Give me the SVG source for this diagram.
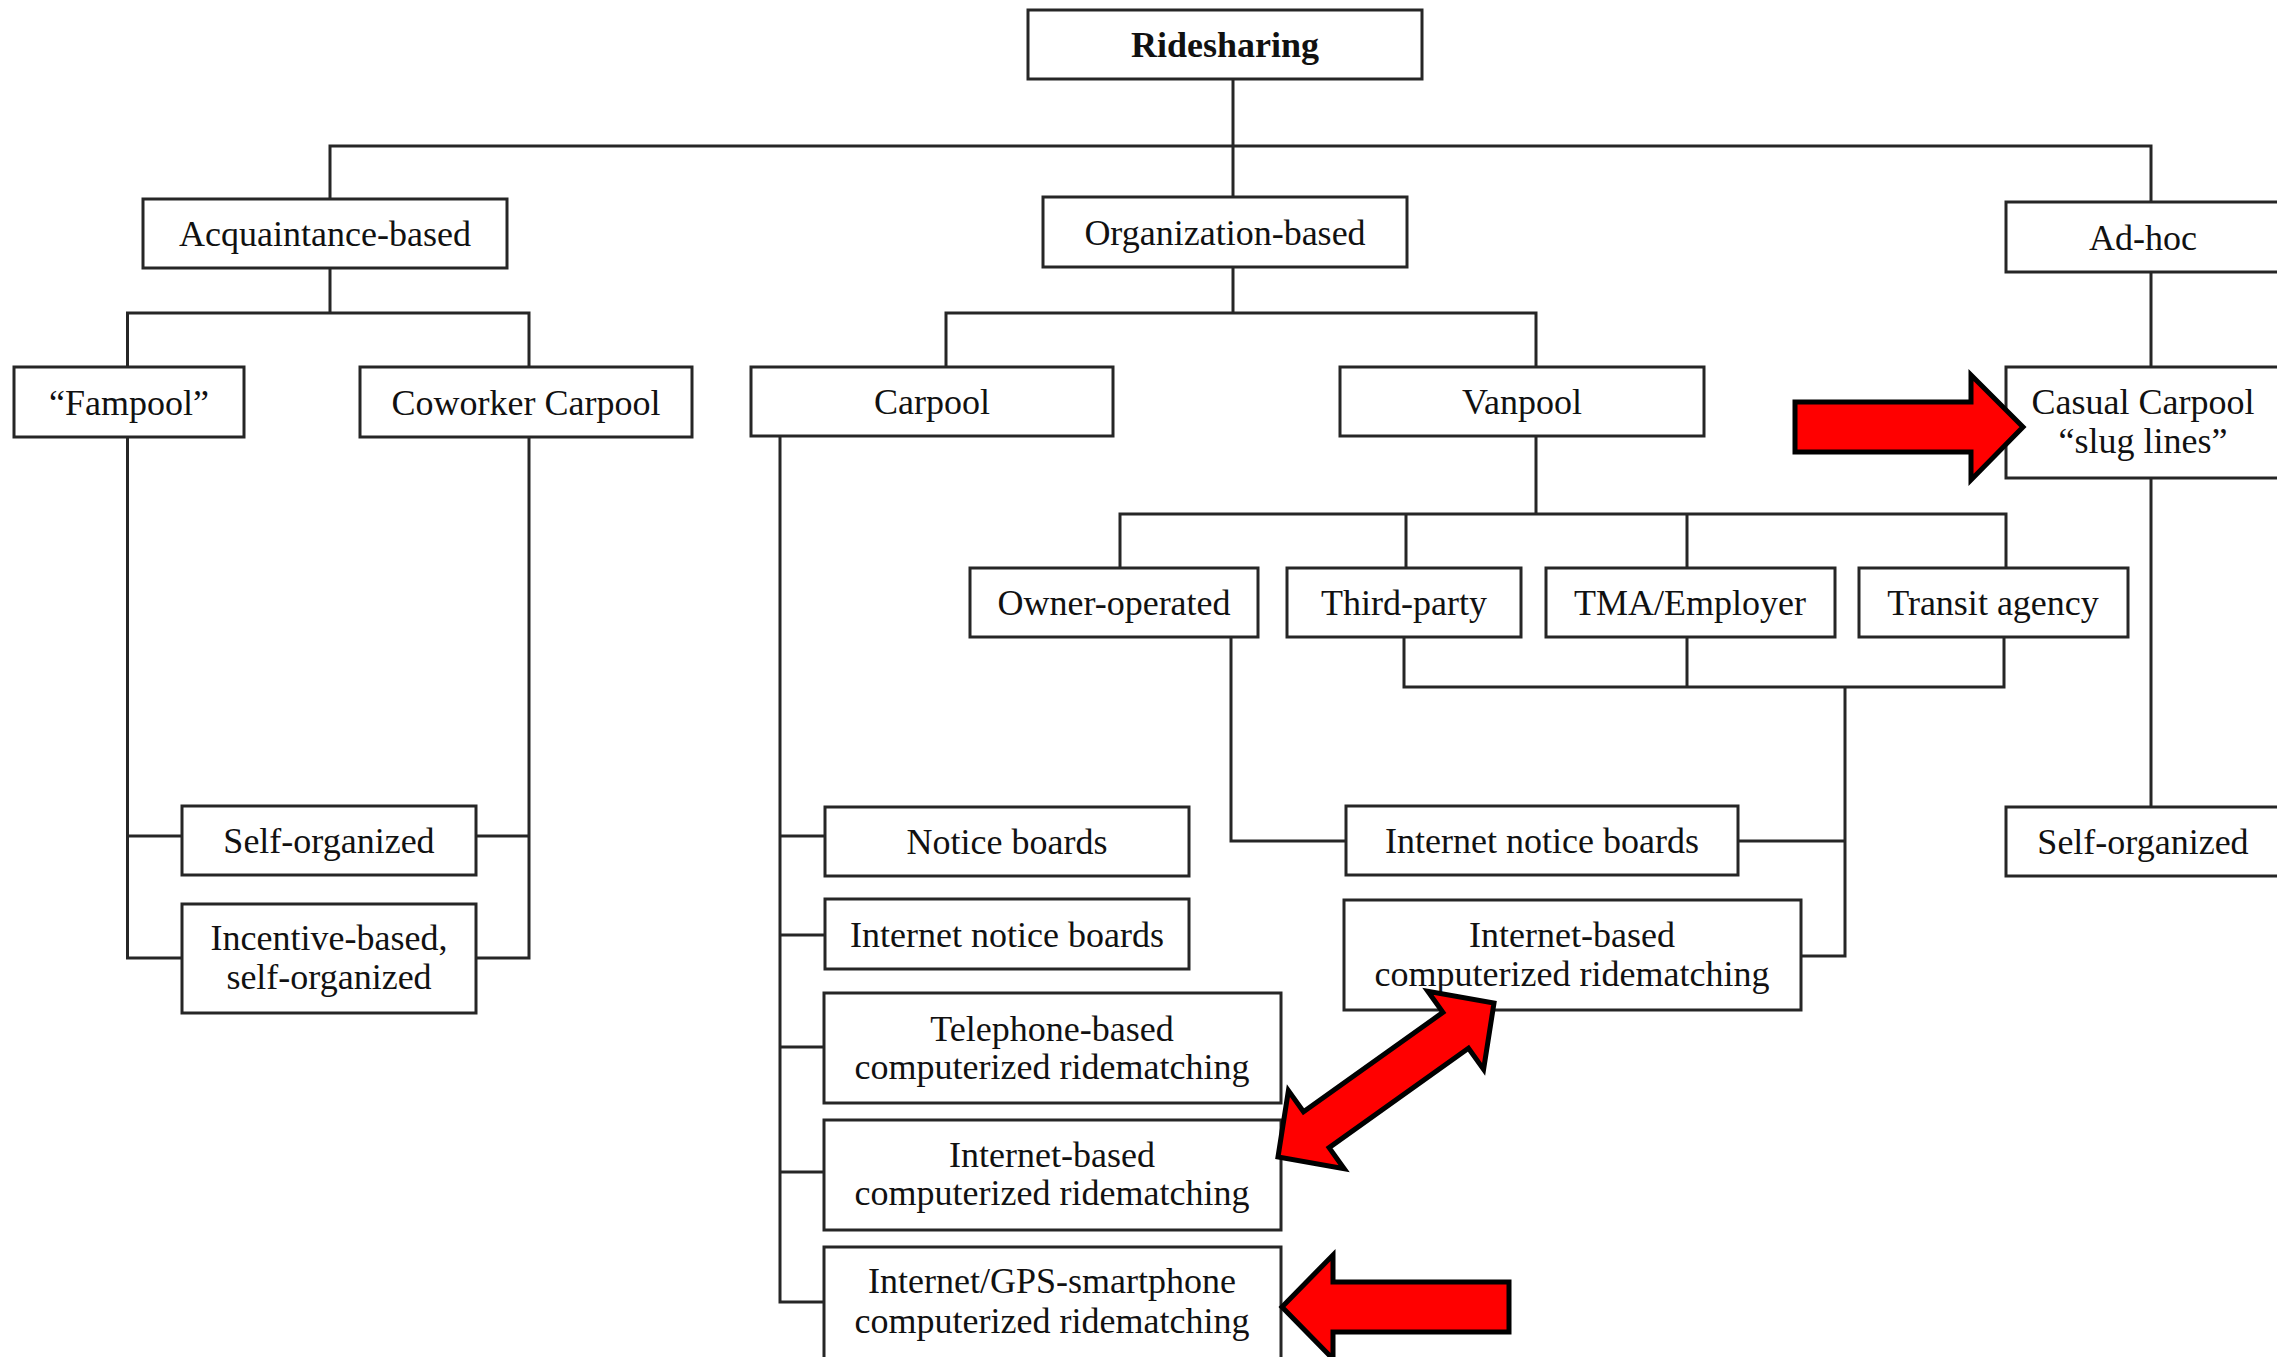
<svg xmlns="http://www.w3.org/2000/svg" width="2277" height="1357" viewBox="0 0 2277 1357">
<style>
.box{fill:#fff;stroke:#262626;stroke-width:3}
.conn{fill:none;stroke:#262626;stroke-width:3}
text{font-family:"Liberation Serif","Times New Roman",serif;font-size:36px;fill:#111;text-anchor:middle}
.bold{font-weight:bold}
.red{fill:#ff0000;stroke:#000;stroke-width:5;stroke-linejoin:miter}
</style>
<rect width="2277" height="1357" fill="#fff"/>
<g id="connectors" class="conn">
<path d="M1233,79 V197"/>
<path d="M330,199 V146 H2151 V202"/>
<path d="M330,268 V313 M127.5,367 V313 H529 V367"/>
<path d="M127.5,437 V958 H182 M127.5,836 H182"/>
<path d="M529,437 V958 H476 M529,836 H476"/>
<path d="M1233,267 V313 M946,367 V313 H1536 V367"/>
<path d="M780,436 V1302 H824 M780,836 H825 M780,935 H825 M780,1047 H824 M780,1172 H824"/>
<path d="M1536,436 V514 M1120,568 V514 H2006 V568 M1406,514 V568 M1687,514 V568"/>
<path d="M1404,637 V687 H2004 V637 M1687,637 V687 M1845,687 V956 H1801 M1845,841 H1738"/>
<path d="M1231,637 V841 H1346"/>
<path d="M2151,272 V367 M2151,478 V807"/>
</g>
<g id="n-ridesharing"><rect class="box" x="1028" y="10" width="394" height="69"/><text class="bold" x="1225" y="57">Ridesharing</text></g>
<g id="n-acquaintance"><rect class="box" x="143" y="199" width="364" height="69"/><text x="325" y="246">Acquaintance-based</text></g>
<g id="n-organization"><rect class="box" x="1043" y="197" width="364" height="70"/><text x="1225" y="245">Organization-based</text></g>
<g id="n-adhoc"><rect class="box" x="2006" y="202" width="280" height="70"/><text x="2143" y="250">Ad-hoc</text></g>
<g id="n-fampool"><rect class="box" x="14" y="367" width="230" height="70"/><text x="129" y="415">“Fampool”</text></g>
<g id="n-coworker"><rect class="box" x="360" y="367" width="332" height="70"/><text x="526" y="415">Coworker Carpool</text></g>
<g id="n-carpool"><rect class="box" x="751" y="367" width="362" height="69"/><text x="932" y="414">Carpool</text></g>
<g id="n-vanpool"><rect class="box" x="1340" y="367" width="364" height="69"/><text x="1522" y="414">Vanpool</text></g>
<g id="n-casual"><rect class="box" x="2006" y="367" width="280" height="111"/><text x="2143" y="414">Casual Carpool</text><text x="2143" y="453">“slug lines”</text></g>
<g id="n-owner"><rect class="box" x="970" y="568" width="288" height="69"/><text x="1114" y="615">Owner-operated</text></g>
<g id="n-third"><rect class="box" x="1287" y="568" width="234" height="69"/><text x="1404" y="615">Third-party</text></g>
<g id="n-tma"><rect class="box" x="1546" y="568" width="289" height="69"/><text x="1690" y="615">TMA/Employer</text></g>
<g id="n-transit"><rect class="box" x="1859" y="568" width="269" height="69"/><text x="1993" y="615">Transit agency</text></g>
<g id="n-self-left"><rect class="box" x="182" y="806" width="294" height="69"/><text x="329" y="853">Self-organized</text></g>
<g id="n-incentive"><rect class="box" x="182" y="904" width="294" height="109"/><text x="329" y="950">Incentive-based,</text><text x="329" y="989">self-organized</text></g>
<g id="n-notice"><rect class="box" x="825" y="807" width="364" height="69"/><text x="1007" y="854">Notice boards</text></g>
<g id="n-inotice-left"><rect class="box" x="825" y="899" width="364" height="70"/><text x="1007" y="947">Internet notice boards</text></g>
<g id="n-telephone"><rect class="box" x="824" y="993" width="457" height="110"/><text x="1052" y="1041">Telephone-based</text><text x="1052" y="1079">computerized ridematching</text></g>
<g id="n-internet-left"><rect class="box" x="824" y="1120" width="457" height="110"/><text x="1052" y="1167">Internet-based</text><text x="1052" y="1205">computerized ridematching</text></g>
<g id="n-gps"><rect class="box" x="824" y="1247" width="457" height="115"/><text x="1052" y="1293">Internet/GPS-smartphone</text><text x="1052" y="1333">computerized ridematching</text></g>
<g id="n-inotice-right"><rect class="box" x="1346" y="806" width="392" height="69"/><text x="1542" y="853">Internet notice boards</text></g>
<g id="n-internet-right"><rect class="box" x="1344" y="900" width="457" height="110"/><text x="1572" y="947">Internet-based</text><text x="1572" y="986">computerized ridematching</text></g>
<g id="n-self-right"><rect class="box" x="2006" y="807" width="280" height="69"/><text x="2143" y="854">Self-organized</text></g>
<g id="arrows">
<polygon class="red" points="1795,402 1971,402 1971,375 2023,427 1971,480 1971,452 1795,452"/>
<polygon class="red" points="1282,1307 1333,1255 1333,1282 1509,1282 1509,1332 1333,1332 1333,1359"/>
<polygon class="red" points="1278,1157 1288.4,1090.6 1303.5,1111.8 1442.9,1012.4 1427.8,991.2 1494,1003 1483.6,1069.4 1468.5,1048.2 1329.1,1147.6 1344.2,1168.8"/>
</g>
</svg>
